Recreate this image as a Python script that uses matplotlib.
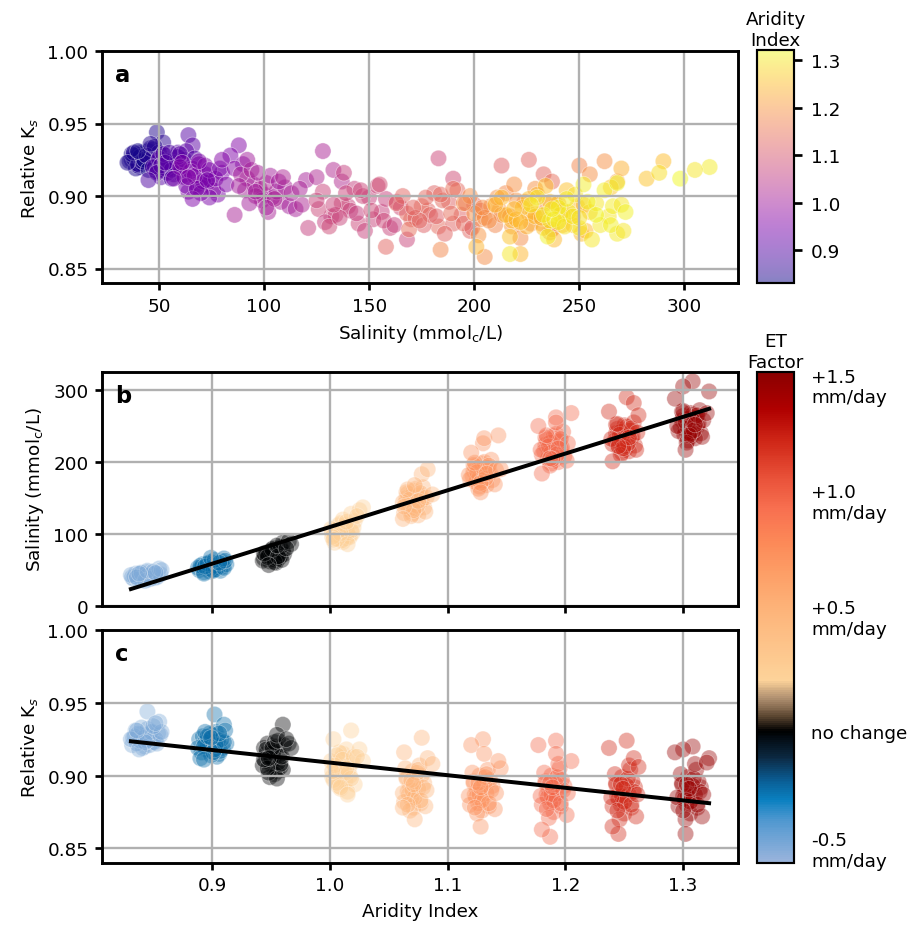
import numpy as np
import matplotlib.pyplot as plt
from matplotlib.colors import LinearSegmentedColormap, Normalize
from matplotlib.cm import ScalarMappable

plt.rcParams['font.family'] = 'DejaVu Sans'
plt.rcParams['font.size'] = 10.2

# ET factor of each aridity group (mm/day)
et_factor = [-0.5, -0.25, 0.0, 0.25, 0.5, 0.75, 1.0, 1.25, 1.5]

# group 1
g1_ai = [0.832, 0.846, 0.838, 0.851, 0.835, 0.843, 0.848, 0.840, 0.854, 0.833, 0.845, 0.841,
         0.849, 0.836, 0.852, 0.844, 0.839, 0.847, 0.834, 0.850, 0.842, 0.837, 0.853, 0.845,
         0.831, 0.848, 0.840, 0.856, 0.843, 0.836, 0.845, 0.855, 0.857, 0.850, 0.852, 0.838]
g1_sal = [40, 37, 43, 39, 45, 41, 44, 36, 42, 38, 47, 39, 41, 42, 45, 38, 46, 40,
          41, 43, 44, 37, 40, 42, 43, 38, 46, 44, 35, 40, 49, 52, 50, 48, 46, 45]
g1_ks = [0.921, 0.925, 0.928, 0.923, 0.931, 0.920, 0.927, 0.924, 0.929, 0.926, 0.932, 0.919,
         0.930, 0.922, 0.925, 0.928, 0.924, 0.921, 0.927, 0.923, 0.926, 0.929, 0.922, 0.924,
         0.925, 0.930, 0.933, 0.928, 0.923, 0.931, 0.944, 0.937, 0.930, 0.934, 0.936, 0.918]
# group 2
g2_ai = [0.895, 0.901, 0.889, 0.906, 0.898, 0.892, 0.904, 0.897, 0.900, 0.909, 0.891, 0.903,
         0.896, 0.907, 0.894, 0.900, 0.912, 0.888, 0.899, 0.905, 0.893, 0.902, 0.898, 0.908,
         0.890, 0.903, 0.896, 0.901, 0.910, 0.894, 0.902, 0.910, 0.911, 0.906, 0.893, 0.899]
g2_sal = [52, 55, 50, 57, 48, 58, 51, 60, 53, 55, 54, 59, 56, 49, 57, 50, 58, 53,
          61, 54, 47, 56, 52, 62, 56, 51, 59, 49, 53, 55, 64, 66, 63, 60, 45, 67]
g2_ks = [0.918, 0.922, 0.925, 0.915, 0.920, 0.927, 0.913, 0.924, 0.928, 0.919, 0.916, 0.930,
         0.921, 0.917, 0.923, 0.926, 0.922, 0.919, 0.914, 0.924, 0.920, 0.918, 0.929, 0.925,
         0.912, 0.921, 0.927, 0.916, 0.923, 0.930, 0.942, 0.935, 0.931, 0.929, 0.911, 0.926]
# group 3
g3_ai = [0.950, 0.946, 0.955, 0.952, 0.944, 0.958, 0.949, 0.953, 0.947, 0.956, 0.951, 0.960,
         0.945, 0.954, 0.949, 0.957, 0.943, 0.952, 0.948, 0.961, 0.950, 0.955, 0.946, 0.958,
         0.953, 0.947, 0.959, 0.951, 0.944, 0.956, 0.960, 0.955, 0.965, 0.967, 0.963, 0.948]
g3_sal = [68, 72, 64, 75, 66, 70, 62, 78, 69, 73, 65, 76, 71, 60, 74, 67, 63, 80,
          70, 72, 77, 66, 74, 82, 61, 68, 64, 79, 73, 69, 88, 84, 90, 86, 80, 57]
g3_ks = [0.908, 0.915, 0.903, 0.911, 0.919, 0.906, 0.913, 0.901, 0.922, 0.909, 0.917, 0.904,
         0.910, 0.920, 0.899, 0.914, 0.907, 0.916, 0.902, 0.921, 0.912, 0.898, 0.918, 0.908,
         0.923, 0.905, 0.913, 0.919, 0.911, 0.924, 0.935, 0.928, 0.922, 0.919, 0.925, 0.912]
# group 4
g4_ai = [1.008, 1.004, 1.013, 1.010, 1.002, 1.016, 1.007, 1.011, 1.005, 1.019, 1.009, 1.014,
         1.003, 1.012, 1.017, 1.006, 1.021, 1.010, 1.001, 1.015, 1.008, 1.013, 1.004, 1.018,
         1.011, 1.006, 1.020, 1.009, 1.014, 1.002, 1.018, 1.003, 1.025, 1.028, 1.023, 1.015]
g4_sal = [100, 95, 108, 92, 104, 98, 112, 89, 106, 101, 115, 94, 99, 110, 96, 103, 118, 91,
          107, 102, 97, 113, 88, 105, 120, 93, 109, 101, 117, 96, 128, 92, 133, 137, 125, 86]
g4_ks = [0.901, 0.908, 0.896, 0.912, 0.899, 0.905, 0.893, 0.915, 0.903, 0.909, 0.891, 0.918,
         0.897, 0.906, 0.900, 0.914, 0.894, 0.904, 0.910, 0.889, 0.916, 0.902, 0.907, 0.898,
         0.911, 0.895, 0.913, 0.892, 0.905, 0.903, 0.931, 0.925, 0.918, 0.910, 0.913, 0.887]
# group 5
g5_ai = [1.068, 1.073, 1.065, 1.077, 1.070, 1.066, 1.080, 1.071, 1.064, 1.075, 1.069, 1.078,
         1.067, 1.073, 1.063, 1.076, 1.070, 1.081, 1.065, 1.072, 1.079, 1.068, 1.074, 1.062,
         1.077, 1.069, 1.082, 1.066, 1.071, 1.075, 1.078, 1.063, 1.083, 1.087, 1.072, 1.062]
g5_sal = [140, 132, 150, 145, 128, 156, 137, 160, 143, 126, 152, 147, 134, 163, 129, 154, 141, 131,
          158, 136, 165, 148, 139, 144, 157, 125, 151, 162, 133, 146, 183, 138, 190, 155, 168, 121]
g5_ks = [0.893, 0.886, 0.899, 0.881, 0.903, 0.889, 0.895, 0.878, 0.905, 0.891, 0.884, 0.900,
         0.887, 0.896, 0.882, 0.907, 0.890, 0.879, 0.898, 0.885, 0.892, 0.876, 0.902, 0.888,
         0.883, 0.897, 0.890, 0.880, 0.894, 0.904, 0.926, 0.916, 0.912, 0.908, 0.870, 0.878]
# group 6
g6_ai = [1.125, 1.130, 1.122, 1.135, 1.127, 1.123, 1.138, 1.129, 1.121, 1.133, 1.126, 1.136,
         1.124, 1.131, 1.119, 1.134, 1.127, 1.140, 1.122, 1.129, 1.137, 1.125, 1.132, 1.118,
         1.135, 1.126, 1.141, 1.123, 1.128, 1.133, 1.130, 1.120, 1.131, 1.145, 1.143, 1.128]
g6_sal = [178, 170, 188, 183, 166, 194, 175, 198, 181, 168, 190, 185, 172, 200, 176, 192, 179, 169,
          196, 174, 203, 186, 177, 182, 195, 163, 189, 199, 171, 184, 226, 213, 233, 190, 237, 158]
g6_ks = [0.890, 0.884, 0.896, 0.879, 0.900, 0.887, 0.893, 0.876, 0.902, 0.888, 0.881, 0.897,
         0.885, 0.894, 0.880, 0.904, 0.887, 0.877, 0.895, 0.883, 0.890, 0.874, 0.899, 0.886,
         0.881, 0.895, 0.888, 0.878, 0.892, 0.901, 0.925, 0.921, 0.915, 0.905, 0.910, 0.865]
# group 7
g7_ai = [1.186, 1.191, 1.183, 1.196, 1.188, 1.184, 1.199, 1.190, 1.182, 1.194, 1.187, 1.197,
         1.185, 1.192, 1.180, 1.195, 1.188, 1.201, 1.183, 1.190, 1.198, 1.186, 1.193, 1.179,
         1.196, 1.187, 1.202, 1.184, 1.189, 1.194, 1.192, 1.177, 1.192, 1.205, 1.187, 1.180]
g7_sal = [212, 203, 224, 218, 198, 231, 208, 236, 215, 200, 227, 220, 205, 239, 210, 229, 213, 202,
          234, 207, 242, 222, 211, 217, 232, 195, 226, 237, 204, 219, 262, 250, 255, 268, 205, 184]
g7_ks = [0.890, 0.884, 0.896, 0.879, 0.900, 0.887, 0.893, 0.875, 0.902, 0.888, 0.881, 0.897,
         0.885, 0.894, 0.880, 0.905, 0.887, 0.873, 0.895, 0.883, 0.890, 0.871, 0.899, 0.886,
         0.881, 0.895, 0.888, 0.877, 0.892, 0.908, 0.924, 0.921, 0.915, 0.910, 0.858, 0.863]
# group 8
g8_ai = [1.246, 1.251, 1.243, 1.256, 1.248, 1.244, 1.259, 1.250, 1.242, 1.254, 1.247, 1.257,
         1.245, 1.252, 1.240, 1.255, 1.248, 1.260, 1.243, 1.250, 1.258, 1.246, 1.253, 1.239,
         1.256, 1.247, 1.261, 1.244, 1.249, 1.254, 1.252, 1.237, 1.258, 1.262, 1.245, 1.240]
g8_sal = [228, 218, 240, 233, 213, 246, 223, 251, 230, 215, 242, 236, 220, 249, 225, 244, 229, 217,
          252, 222, 255, 238, 226, 232, 247, 210, 241, 253, 219, 234, 290, 270, 282, 265, 222, 201]
g8_ks = [0.889, 0.883, 0.895, 0.878, 0.899, 0.886, 0.892, 0.874, 0.901, 0.887, 0.880, 0.896,
         0.884, 0.893, 0.879, 0.904, 0.886, 0.872, 0.894, 0.882, 0.889, 0.870, 0.898, 0.885,
         0.880, 0.894, 0.887, 0.876, 0.891, 0.907, 0.924, 0.919, 0.912, 0.906, 0.860, 0.865]
# group 9
g9_ai = [1.302, 1.307, 1.299, 1.312, 1.304, 1.300, 1.315, 1.306, 1.298, 1.310, 1.303, 1.313,
         1.301, 1.308, 1.296, 1.311, 1.304, 1.316, 1.299, 1.306, 1.314, 1.302, 1.309, 1.295,
         1.312, 1.303, 1.317, 1.300, 1.305, 1.310, 1.308, 1.300, 1.322, 1.320, 1.293, 1.302]
g9_sal = [245, 236, 258, 250, 230, 264, 240, 268, 248, 233, 260, 254, 238, 266, 243, 262, 247, 235,
          270, 240, 272, 256, 244, 250, 265, 227, 258, 271, 237, 252, 312, 305, 298, 268, 288, 217]
g9_ks = [0.889, 0.883, 0.895, 0.878, 0.899, 0.886, 0.892, 0.874, 0.901, 0.887, 0.880, 0.896,
         0.884, 0.893, 0.879, 0.904, 0.886, 0.872, 0.894, 0.882, 0.889, 0.870, 0.898, 0.885,
         0.880, 0.894, 0.887, 0.876, 0.891, 0.908, 0.920, 0.918, 0.912, 0.909, 0.916, 0.860]

groups = [(g1_ai, g1_sal, g1_ks), (g2_ai, g2_sal, g2_ks), (g3_ai, g3_sal, g3_ks),
          (g4_ai, g4_sal, g4_ks), (g5_ai, g5_sal, g5_ks), (g6_ai, g6_sal, g6_ks),
          (g7_ai, g7_sal, g7_ks), (g8_ai, g8_sal, g8_ks), (g9_ai, g9_sal, g9_ks)]

ai = np.concatenate([g[0] for g in groups])
sal = np.concatenate([g[1] for g in groups])
ks = np.concatenate([g[2] for g in groups])
et = np.concatenate([[f] * len(g[0]) for f, g in zip(et_factor, groups)])

# colormap for ET factor (blue -> black -> peach -> dark red)
et_min, et_max = -0.57, 1.55
stops = [(-0.57, '#9ab4dc'), (-0.39, '#5098d0'), (-0.30, '#0a80c0'), (-0.21, '#0a5a90'),
         (-0.12, '#0c2a44'), (0.0, '#000000'), (0.06, '#5a4530'), (0.14, '#b09070'),
         (0.22, '#fdd39a'), (0.52, '#fdb47a'), (0.67, '#fda068'), (0.81, '#fc8a58'),
         (0.96, '#f87050'), (1.10, '#e85038'), (1.25, '#d02818'), (1.39, '#b00000'),
         (1.55, '#8b0000')]
et_cmap = LinearSegmentedColormap.from_list(
    'et', [((v - et_min) / (et_max - et_min), c) for v, c in stops])
et_norm = Normalize(et_min, et_max)

fig = plt.figure(figsize=(7, 7.138), dpi=130)
W, H = 910, 928


def box(x0, y0, x1, y1):
    return [x0 / W, 1 - y1 / H, (x1 - x0) / W, (y1 - y0) / H]


ax_a = fig.add_axes(box(102, 52, 738, 284))
ax_b = fig.add_axes(box(102, 373, 738, 607))
ax_c = fig.add_axes(box(102, 631, 738, 864), sharex=ax_b)
cax_a = fig.add_axes(box(757, 51, 794, 284))
cax_et = fig.add_axes(box(757, 373, 794, 864))

sc_kw = dict(s=82, edgecolors='white', linewidths=0.4)

# a: Ks vs salinity, coloured by aridity
sc_a = ax_a.scatter(sal, ks, c=ai, cmap='plasma', alpha=0.5, **sc_kw)
ax_a.set_xlim(22.9, 325.5)
ax_a.set_ylim(0.84, 1.0)
ax_a.set_xticks([50, 100, 150, 200, 250, 300])
ax_a.set_yticks([0.85, 0.90, 0.95, 1.00])
ax_a.set_xlabel('Salinity (mmol$_\\mathrm{c}$/L)')
ax_a.set_ylabel('Relative K$_s$')

# b: salinity vs aridity
ax_b.scatter(ai, sal, c=et, cmap=et_cmap, norm=et_norm, alpha=0.4, **sc_kw)
p = np.polyfit(ai, sal, 1)
xl = np.array([ai.min(), ai.max()])
ax_b.plot(xl, np.polyval(p, xl), color='black', lw=2.2)
ax_b.set_ylim(0, 325)
ax_b.set_yticks([0, 100, 200, 300])
ax_b.set_ylabel('Salinity (mmol$_\\mathrm{c}$/L)')
ax_b.tick_params(labelbottom=False)

# c: Ks vs aridity
ax_c.scatter(ai, ks, c=et, cmap=et_cmap, norm=et_norm, alpha=0.4, **sc_kw)
p = np.polyfit(ai, ks, 1)
ax_c.plot(xl, np.polyval(p, xl), color='black', lw=2.2)
ax_c.set_ylim(0.84, 1.0)
ax_c.set_yticks([0.85, 0.90, 0.95, 1.00])
ax_c.set_xticks([0.9, 1.0, 1.1, 1.2, 1.3])
ax_c.set_xlabel('Aridity Index')
ax_c.set_ylabel('Relative K$_s$')

for ax, lab in zip([ax_a, ax_b, ax_c], ['a', 'b', 'c']):
    ax.grid(True, color='#b0b0b0', lw=1.3)
    for sp in ax.spines.values():
        sp.set_linewidth(1.6)
    ax.tick_params(width=1.5, length=4)
    ax.text(0.02, 0.9, lab, transform=ax.transAxes, fontsize=12.5,
            fontweight='bold', va='center')

cb_a = fig.colorbar(sc_a, cax=cax_a)
cb_a.set_ticks([0.9, 1.0, 1.1, 1.2, 1.3])
cb_a.outline.set_linewidth(1.2)
cax_a.tick_params(width=1.5, length=4.5, pad=5)
cax_a.set_title('Aridity\nIndex', fontsize=10.2, pad=3)

cb_et = fig.colorbar(ScalarMappable(norm=et_norm, cmap=et_cmap), cax=cax_et)
cb_et.set_ticks([-0.5, 0.0, 0.5, 1.0, 1.5])
cb_et.set_ticklabels(['-0.5\nmm/day', 'no change', '+0.5\nmm/day', '+1.0\nmm/day', '+1.5\nmm/day'])
cb_et.outline.set_linewidth(1.2)
cax_et.tick_params(length=0, pad=9.5)
cax_et.set_title('ET\nFactor', fontsize=10.2, pad=3)

fig.savefig('out.png', dpi=130)
